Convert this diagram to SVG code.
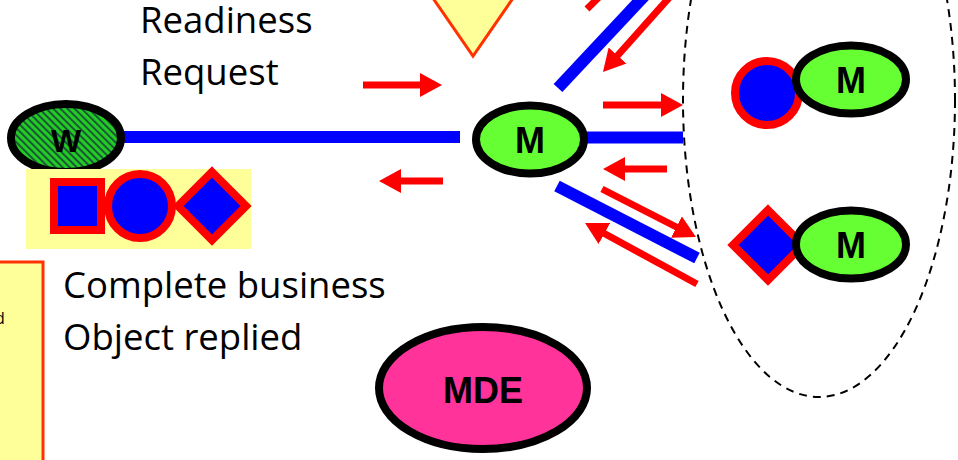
<svg xmlns="http://www.w3.org/2000/svg" width="958" height="460" viewBox="0 0 958 460">
<style>
.lbl{font-family:"Open Sans","Noto Sans",sans-serif;font-size:36.5px;fill:#000}
.nt{font-family:"Liberation Sans",Arial,sans-serif;font-weight:bold;fill:#000;text-anchor:middle}
.node{stroke:#000;stroke-width:8}
.obj{fill:#0000ff;stroke:#ff0000;stroke-width:8}
.link{stroke:#0000ff;stroke-width:12;fill:none}
.msg{stroke:#ff0000;stroke-width:7;fill:none}
.arr{stroke:#ff0000;stroke-width:7;fill:none;marker-end:url(#ah)}
</style>
<defs>
<pattern id="hatch" width="5" height="5" patternUnits="userSpaceOnUse" patternTransform="rotate(-45)">
<rect width="5" height="5" fill="#22cc22"/>
<rect width="1.8" height="5" fill="#1a4a3a"/>
</pattern>
<marker id="ah" viewBox="0 0 22 24" refX="12" refY="12" markerWidth="22" markerHeight="24" markerUnits="userSpaceOnUse" orient="auto">
<path d="M0,0 L22,12 L0,24 z" fill="#ff0000"/>
</marker>
</defs>
<rect width="958" height="460" fill="#fff"/>

<g id="legend-box">
<rect x="-10" y="262" width="53" height="210" fill="#ffff99" stroke="#ff3300" stroke-width="3"/>
<text x="-5" y="324" font-family="Open Sans,sans-serif" font-size="16" fill="#000">d</text>
</g>

<g id="scope">
<ellipse cx="819" cy="100" rx="136" ry="297" fill="none" stroke="#000" stroke-width="2" stroke-dasharray="8 6"/>
</g>

<g id="connectors">
<line class="link" x1="120" y1="137" x2="460" y2="137"/>
<line class="link" x1="558" y1="88" x2="648" y2="-8"/>
<line class="link" x1="584" y1="137.5" x2="683" y2="137.5"/>
<line class="link" x1="557" y1="186" x2="697" y2="258"/>
<line class="arr" x1="363" y1="85" x2="432" y2="85"/>
<line class="arr" x1="443" y1="181" x2="389" y2="181"/>
<line class="msg" x1="587" y1="9" x2="612" y2="-16"/>
<line class="arr" x1="676" y1="-10" x2="609.6" y2="64.5"/>
<line class="arr" x1="603" y1="105" x2="673" y2="105"/>
<line class="arr" x1="667" y1="169" x2="613" y2="169"/>
<line class="arr" x1="602" y1="189" x2="687.1" y2="232.5"/>
<line class="arr" x1="697" y1="284" x2="593.8" y2="227.8"/>
</g>

<g id="trigger">
<polygon points="410,-35 536,-35 473,56" fill="#ffff99" stroke="#ff3300" stroke-width="3"/>
</g>

<g id="W">
<ellipse class="node" cx="66" cy="138" rx="55" ry="34" fill="url(#hatch)"/>
<text class="nt" x="66" y="152" font-size="32">W</text>
</g>

<g id="business-object">
<rect x="26" y="169" width="225" height="80" fill="#ffff99"/>
<rect class="obj" x="54" y="182" width="47" height="48"/>
<circle class="obj" cx="140" cy="206" r="32"/>
<polygon class="obj" points="212,172 246,206 212,240 178,206"/>
</g>

<g id="M-center">
<ellipse class="node" cx="530" cy="139.5" rx="54" ry="34" fill="#66ff33"/>
<text class="nt" x="530" y="153" font-size="36">M</text>
</g>

<g id="M-top">
<circle class="obj" cx="767" cy="93" r="32"/>
<ellipse class="node" cx="851" cy="79.5" rx="55" ry="34" fill="#66ff33"/>
<text class="nt" x="851" y="93" font-size="36">M</text>
</g>

<g id="M-bottom">
<polygon class="obj" points="768,210 803,245 768,280 733,245"/>
<ellipse class="node" cx="851" cy="244.5" rx="55" ry="34" fill="#66ff33"/>
<text class="nt" x="851" y="258" font-size="36">M</text>
</g>

<g id="MDE">
<ellipse class="node" cx="483" cy="388" rx="104" ry="61" fill="#ff3399"/>
<text class="nt" x="483" y="403" font-size="36">MDE</text>
</g>

<g id="labels">
<text class="lbl" x="140" y="33">Readiness</text>
<text class="lbl" x="140" y="85">Request</text>
<text class="lbl" x="63" y="298">Complete business</text>
<text class="lbl" x="63" y="350">Object replied</text>
</g>
</svg>
